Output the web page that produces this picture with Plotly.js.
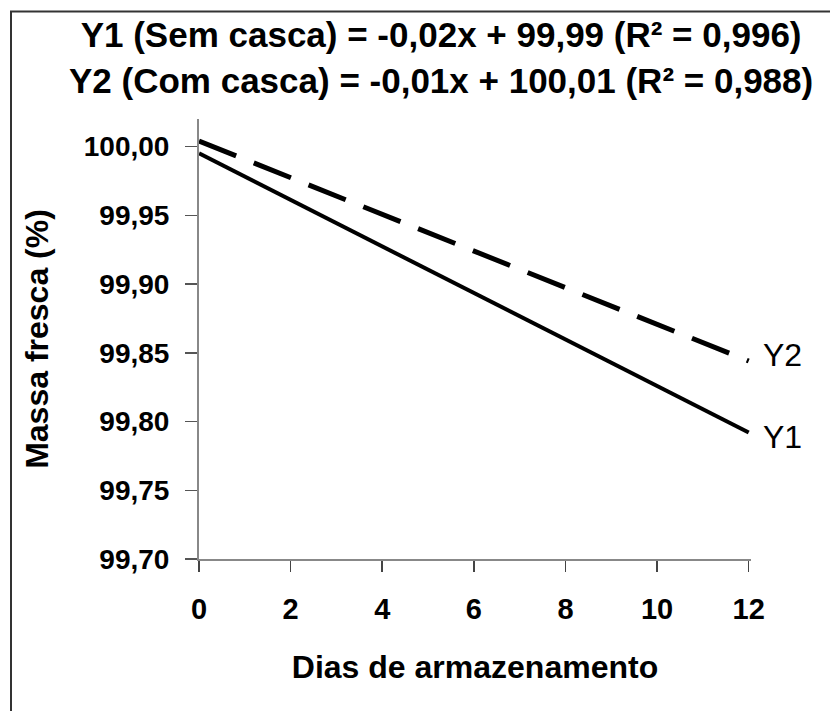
<!DOCTYPE html>
<html>
<head>
<meta charset="utf-8">
<script src="https://cdn.plot.ly/plotly-3.0.1.min.js"></script>
<style>html,body{margin:0;padding:0;background:#fff;}#chart{width:830px;height:711px;}</style>
</head>
<body>
<div id="chart"></div>
<script>
// Data
const days = [0, 12];
const y1SemCasca = [99.995, 99.792];
const y2ComCasca = [100.004, 99.844];
const seriesLabels = ["Y1", "Y2"];
const xTicks = [0, 2, 4, 6, 8, 10, 12];
const yTicks = [99.70, 99.75, 99.80, 99.85, 99.90, 99.95, 100.00];
const titleLines = [
  "Y1 (Sem casca) = -0,02x + 99,99 (R² = 0,996)",
  "Y2 (Com casca) = -0,01x + 100,01 (R² = 0,988)"
];

const FONT = "Liberation Sans, Arial, sans-serif";
const W = 830, H = 711;
const mL = 199, mR = 79, mT = 118.5, mB = 152;
const plotW = W - mL - mR, plotH = H - mT - mB;
const px2paperX = X => (X - mL) / plotW;
const px2paperY = Y => (H - mB - Y) / plotH;

const traces = [
  {x: days, y: y1SemCasca, mode: 'lines', name: seriesLabels[0],
   line: {color: '#000', width: 4}},
  {x: days, y: y2ComCasca, mode: 'lines', name: seriesLabels[1],
   line: {color: '#000', width: 5, dash: '40px,19px'}}
];

const layout = {
  width: W, height: H,
  margin: {l: mL, r: mR, t: mT, b: mB, pad: 0},
  paper_bgcolor: '#fff', plot_bgcolor: '#fff',
  showlegend: false,
  separators: ',.',
  font: {family: FONT, color: '#000'},
  xaxis: {
    range: [0, 12.05],
    tickmode: 'array', tickvals: xTicks, ticktext: xTicks.map(String),
    showgrid: false, zeroline: false,
    showline: true, linecolor: '#888', linewidth: 2,
    ticks: 'outside', ticklen: 11, tickwidth: 1.5, tickcolor: '#444',
    ticklabelstandoff: 12,
    tickfont: {family: FONT, size: 29, color: '#000', weight: 'bold'},
    title: {text: '<b>Dias de armazenamento</b>', font: {family: FONT, size: 32, color: '#000'}, standoff: 32},
    fixedrange: true
  },
  yaxis: {
    range: [99.70, 100.02],
    tickmode: 'array', tickvals: yTicks, ticktext: yTicks.map(v => v.toFixed(2).replace('.', ',')),
    showgrid: false, zeroline: false,
    showline: true, linecolor: '#888', linewidth: 2,
    ticks: 'outside', ticklen: 12, tickwidth: 1.5, tickcolor: '#555',
    ticklabelstandoff: 10,
    tickfont: {family: FONT, size: 28, color: '#000', weight: 'bold'},
    title: {text: '<b>Massa fresca (%)</b>', font: {family: FONT, size: 32, color: '#000'}, standoff: 26},
    fixedrange: true
  },
  annotations: [
    {xref: 'paper', yref: 'paper', x: px2paperX(441), y: px2paperY(12),
     xanchor: 'center', yanchor: 'top', showarrow: false,
     text: '<b>' + titleLines.join('<br>') + '</b>',
     font: {family: FONT, size: 35, color: '#000'}},
    {x: days[days.length - 1], y: y2ComCasca[y2ComCasca.length - 1], xref: 'x', yref: 'y',
     text: seriesLabels[1], showarrow: false, xanchor: 'left', yanchor: 'middle',
     xshift: 12, yshift: 6, font: {family: FONT, size: 32, color: '#000'}},
    {x: days[days.length - 1], y: y1SemCasca[y1SemCasca.length - 1], xref: 'x', yref: 'y',
     text: seriesLabels[0], showarrow: false, xanchor: 'left', yanchor: 'middle',
     xshift: 12, yshift: -4, font: {family: FONT, size: 32, color: '#000'}}
  ],
  shapes: [
    {type: 'rect', xref: 'paper', yref: 'paper',
     x0: px2paperX(11), x1: px2paperX(W + 40),
     y0: px2paperY(H + 40), y1: px2paperY(11),
     line: {color: '#333', width: 2}, fillcolor: 'rgba(0,0,0,0)', layer: 'below'}
  ]
};

Plotly.newPlot('chart', traces, layout, {displayModeBar: false, staticPlot: true});
</script>
</body>
</html>
